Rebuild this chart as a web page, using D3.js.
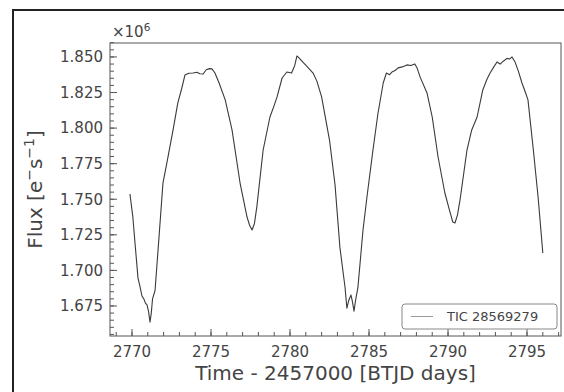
<!DOCTYPE html>
<html>
<head>
<meta charset="utf-8">
<script src="https://cdn.jsdelivr.net/npm/d3@7"></script>
<style>
  body { margin: 0; background: #fff; }
  svg { display: block; font-family: "DejaVu Sans", sans-serif; }
</style>
</head>
<body>
<svg id="lc" width="564" height="392"></svg>
<script>
// light curve (flux in units of 1e6 e-/s)
const timeBTJD = [
  2769.87, 2770.05, 2770.2, 2770.38, 2770.5, 2770.63, 2770.75, 2770.85, 2770.95, 2771.05, 2771.14, 2771.22, 2771.3,
  2771.46, 2771.7, 2771.96, 2772.3, 2772.6, 2772.9, 2773.15, 2773.35, 2773.6, 2773.86, 2774.1, 2774.3, 2774.5,
  2774.7, 2774.9, 2775.06, 2775.25, 2775.5, 2775.9, 2776.33, 2776.84, 2777.28, 2777.45, 2777.6, 2777.75, 2777.9,
  2778.3, 2778.73, 2779.0, 2779.18, 2779.5, 2779.8, 2780.1, 2780.3, 2780.44, 2780.6, 2780.8, 2781.1, 2781.46,
  2781.7, 2782.0, 2782.5, 2782.85, 2783.16, 2783.48, 2783.6, 2783.72, 2783.86, 2783.95, 2784.05, 2784.15, 2784.3,
  2784.62, 2784.87, 2785.25, 2785.57, 2785.9, 2786.1, 2786.3, 2786.45, 2786.65, 2786.84, 2787.1, 2787.4, 2787.65,
  2787.9, 2788.05, 2788.23, 2788.67, 2789.0, 2789.37, 2789.8, 2790.1, 2790.3, 2790.44, 2790.6, 2790.76, 2791.2,
  2791.5, 2791.84, 2792.2, 2792.45, 2792.66, 2792.9, 2793.1, 2793.3, 2793.5, 2793.73, 2793.9, 2794.05, 2794.24,
  2794.45, 2794.68, 2794.9, 2795.06, 2795.4, 2795.7, 2796.0
];
const fluxE6 = [
  1.7537, 1.738, 1.718, 1.6946, 1.689, 1.682, 1.680, 1.677, 1.6757, 1.671, 1.6637, 1.670, 1.680,
  1.686, 1.722, 1.7614, 1.781, 1.7987, 1.8177, 1.828, 1.8373, 1.8385, 1.8387, 1.8392, 1.8382, 1.838,
  1.841, 1.8418, 1.8416, 1.8387, 1.832, 1.8198, 1.7987, 1.7614, 1.7375, 1.7315, 1.7284, 1.7330, 1.7446,
  1.7846, 1.8078, 1.8160, 1.8219, 1.8352, 1.8394, 1.8387, 1.8440, 1.8507, 1.8490, 1.8465, 1.8430, 1.8387,
  1.8330, 1.8219, 1.7916, 1.760, 1.7160, 1.6883, 1.6735, 1.6790, 1.6827, 1.6780, 1.6714, 1.6790, 1.6883,
  1.7284, 1.7516, 1.7846, 1.8106, 1.8317, 1.8387, 1.8375, 1.8394, 1.8405, 1.8423, 1.8430, 1.8444, 1.8440,
  1.8451, 1.8420, 1.8360, 1.8247, 1.8078, 1.7797, 1.7544, 1.7420, 1.7340, 1.7333, 1.7390, 1.7495, 1.7846,
  1.7987, 1.8078, 1.8268, 1.8340, 1.8387, 1.8430, 1.8465, 1.8450, 1.8470, 1.8490, 1.8485, 1.8500, 1.8465,
  1.8400, 1.8317, 1.8250, 1.8198, 1.7846, 1.7516, 1.7122
];
const xTicks = [2770, 2775, 2780, 2785, 2790, 2795];
const yTicks = [1.675, 1.700, 1.725, 1.750, 1.775, 1.800, 1.825, 1.850];
const seriesLabel = "TIC 28569279";

const svg = d3.select("#lc");
const W = +svg.attr("width"), H = +svg.attr("height");
const margin = { top: 43, right: 3, bottom: 56, left: 110 };

// figure frame (cropped at right/bottom)
svg.append("rect").attr("width", W).attr("height", H).attr("fill", "#fff");
svg.append("rect")
  .attr("x", 13).attr("y", 10).attr("width", W + 10).attr("height", H + 10)
  .attr("fill", "none").attr("stroke", "#222").attr("stroke-width", 2);

const x = d3.scaleLinear()
  .domain([2768.608, 2797.15])
  .range([margin.left, W - margin.right]);
const y = d3.scaleLinear()
  .domain([1.6539, 1.8598])
  .range([H - margin.bottom, margin.top]);

const tickCol = "#555", textCol = "#444";

// minor ticks
const g = svg.append("g");
g.selectAll(".xm").data(d3.range(2769, 2798, 1)).join("line")
  .attr("x1", d => x(d)).attr("x2", d => x(d))
  .attr("y1", y.range()[0]).attr("y2", y.range()[0] - 4)
  .attr("stroke", tickCol);
g.selectAll(".ym").data(d3.range(1.655, 1.860, 0.005)).join("line")
  .attr("x1", margin.left).attr("x2", margin.left + 4)
  .attr("y1", d => y(d)).attr("y2", d => y(d))
  .attr("stroke", tickCol);

// major ticks + labels
g.selectAll(".xt").data(xTicks).join("line")
  .attr("x1", d => x(d)).attr("x2", d => x(d))
  .attr("y1", y.range()[0]).attr("y2", y.range()[0] - 7)
  .attr("stroke", tickCol);
g.selectAll(".xl").data(xTicks).join("text")
  .attr("x", d => x(d)).attr("y", 357)
  .attr("text-anchor", "middle").attr("font-size", 15).attr("fill", textCol)
  .text(d => d);
g.selectAll(".yt").data(yTicks).join("line")
  .attr("x1", margin.left).attr("x2", margin.left + 7)
  .attr("y1", d => y(d)).attr("y2", d => y(d))
  .attr("stroke", tickCol);
g.selectAll(".yl").data(yTicks).join("text")
  .attr("x", 103).attr("y", d => y(d)).attr("dy", "0.36em")
  .attr("text-anchor", "end").attr("font-size", 15).attr("fill", textCol)
  .text(d => d3.format(".3f")(d));

// offset text
const off = svg.append("text").attr("x", 112).attr("y", 37)
  .attr("font-size", 15).attr("fill", textCol);
off.append("tspan").text("×10");
off.append("tspan").attr("font-size", 10.5).attr("dy", -6).text("6");

// light curve
const pts = timeBTJD.map((t, i) => [t, fluxE6[i]]);
svg.append("path")
  .datum(pts)
  .attr("fill", "none")
  .attr("stroke", "#3a3a3a")
  .attr("stroke-width", 1.1)
  .attr("stroke-linejoin", "round")
  .attr("d", d3.line().x(d => x(d[0])).y(d => y(d[1])));

// spines
svg.append("rect")
  .attr("x", margin.left).attr("y", margin.top)
  .attr("width", W - margin.right - margin.left)
  .attr("height", H - margin.bottom - margin.top)
  .attr("fill", "none").attr("stroke", tickCol).attr("stroke-width", 1);

// axis labels
svg.append("text")
  .attr("x", (margin.left + W - margin.right) / 2).attr("y", 380)
  .attr("text-anchor", "middle").attr("font-size", 20).attr("fill", textCol)
  .text("Time - 2457000 [BTJD days]");

const yl = svg.append("text")
  .attr("transform", `translate(42, ${(margin.top + H - margin.bottom) / 2}) rotate(-90)`)
  .attr("text-anchor", "middle").attr("font-size", 20).attr("fill", textCol);
yl.append("tspan").text("Flux [e");
yl.append("tspan").attr("font-size", 14).attr("dy", -8).text("−");
yl.append("tspan").attr("dy", 8).text("s");
yl.append("tspan").attr("font-size", 14).attr("dy", -8).text("−1");
yl.append("tspan").attr("dy", 8).text("]");

// legend
const lg = svg.append("g").attr("transform", "translate(402, 304)");
lg.append("rect")
  .attr("width", 155).attr("height", 25).attr("rx", 3)
  .attr("fill", "#fff").attr("fill-opacity", 0.85)
  .attr("stroke", "#888").attr("stroke-width", 1);
lg.append("line")
  .attr("x1", 9).attr("x2", 31).attr("y1", 12.5).attr("y2", 12.5)
  .attr("stroke", "#999").attr("stroke-width", 1);
lg.append("text")
  .attr("x", 45).attr("y", 17).attr("font-size", 13).attr("fill", textCol)
  .text(seriesLabel);
</script>
</body>
</html>
